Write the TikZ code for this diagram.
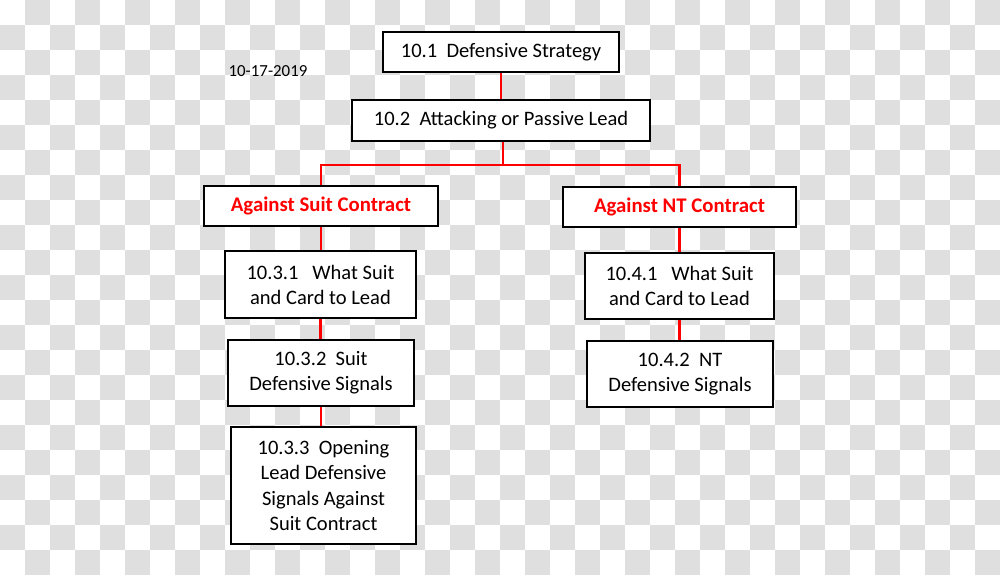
\documentclass[tikz,border=0pt]{standalone}
\usepackage{fontspec}
\setmainfont{Carlito}
\usepackage{tikz}
\definecolor{checkgray}{HTML}{DFDFDF}
\definecolor{linkred}{HTML}{FF0000}

\begin{document}
\begin{tikzpicture}[x=0.025cm, y=-0.025cm,
        box/.style={draw, line width=1.5pt, fill=white, align=center, inner sep=2pt,
            font=\fontsize{14.6}{17.8}\selectfont},
        headbox/.style={draw, line width=1.5pt, fill=white, text=linkred,
            font=\fontsize{14.8}{17}\selectfont\bfseries},
        link/.style={draw=linkred, line width=2.1pt}]
        \useasboundingbox (0,0) rectangle (1000,575);

        % Background squares
        \fill[white] (0,0) rectangle (1000,575);
        \foreach \i in {1,3,...,39} \foreach \j in {0,2,...,22}
            \fill[checkgray] (25*\i,25*\j) rectangle ++(25,25);
        \foreach \i in {0,2,...,38} \foreach \j in {1,3,...,21}
            \fill[checkgray] (25*\i,25*\j) rectangle ++(25,25);

        % Top of the tree
        \node[font=\fontsize{12}{14}\selectfont] (date) at (268,71) {10-17-2019};
        \node[box, minimum width=5.9cm, minimum height=1cm] (strat) at (501,52) {10.1\ \ Defensive Strategy};
        \node[box, minimum width=7.45cm, minimum height=1.025cm] (lead) at (501,120.5) {10.2\ \ Attacking or Passive Lead};
        \coordinate (split) at (503,165);

        % Suit contract branch
        \node[headbox, minimum width=5.85cm, minimum height=1cm] (suit) at (321,206) {Against Suit Contract};
        \node[box, minimum width=4.775cm, minimum height=1.675cm] (suit1) at (320.5,284.5) {10.3.1\ \ \ What Suit\\and Card to Lead};
        \node[box, minimum width=4.65cm, minimum height=1.65cm] (suit2) at (321,373) {10.3.2\ \ Suit\\Defensive Signals};
        \node[box, minimum width=4.625cm, minimum height=2.925cm] (suit3) at (323.5,485.5) {10.3.3\ \ Opening\\Lead Defensive\\Signals Against\\Suit Contract};

        % NT contract branch
        \node[headbox, minimum width=5.825cm, minimum height=1cm] (nt) at (679.5,207) {Against NT Contract};
        \node[box, minimum width=4.725cm, minimum height=1.65cm] (nt1) at (679.5,286) {10.4.1\ \ \ What Suit\\and Card to Lead};
        \node[box, minimum width=4.65cm, minimum height=1.65cm] (nt2) at (680,374) {10.4.2\ \ NT\\Defensive Signals};

        % Connections
        \draw[link] (strat.south) -- (lead.north);
        \draw[link] (lead.south -| split) -- (split);
        \draw[link] (split) -| (suit.north);
        \draw[link] (split) -| (nt.north);
        \draw[link] (suit.south) -- (suit.south |- suit1.north);
        \draw[link] (suit1.south) -- (suit1.south |- suit2.north);
        \draw[link] (suit2.south) -- (suit2.south |- suit3.north);
        \draw[link] (nt.south) -- (nt.south |- nt1.north);
        \draw[link] (nt1.south) -- (nt1.south |- nt2.north);
    \end{tikzpicture}
\end{document}
